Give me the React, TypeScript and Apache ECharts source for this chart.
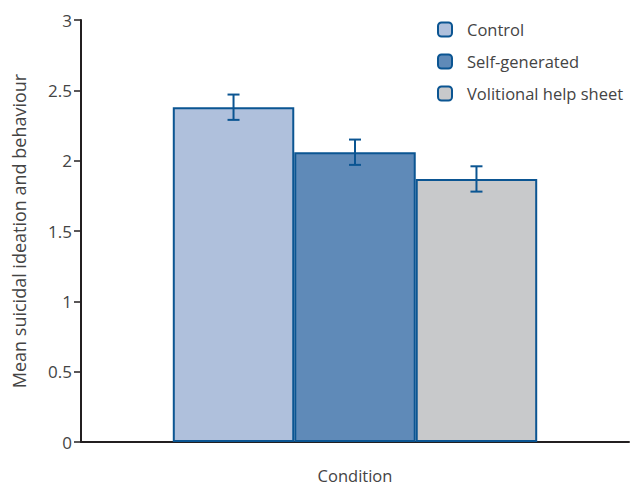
import React, { useEffect, useRef } from "react";
import * as echarts from "echarts";

const categories = ["Condition"];
const seriesNames = ["Control", "Self-generated", "Volitional help sheet"];
const means = [2.38, 2.06, 1.87];
const errors = [0.09, 0.09, 0.09];
const fills = ["#afc0dc", "#5f8ab8", "#c8c9cb"];
const yTicks = { min: 0, max: 3, interval: 0.5 };

const BORDER = "#0b5592";
const TEXT = "#444444";
const CAT_GAP = 0.335;

export default function App() {
  const ref = useRef<HTMLDivElement>(null);
  useEffect(() => {
    if (!ref.current) return;
    const chart = echarts.init(ref.current, null, { renderer: "svg" });
    const barSeries = seriesNames.map((name, i) => ({
      name,
      type: "bar",
      data: [means[i]],
      barGap: "0%",
      barCategoryGap: CAT_GAP * 100 + "%",
      itemStyle: { color: fills[i], borderColor: BORDER, borderWidth: 2 },
    }));
    const errData = seriesNames.map((_, i) => [0, means[i], errors[i], i]);
    chart.setOption({
      animation: false,
      textStyle: { fontFamily: "Open Sans" },
      grid: { left: 81, right: 7, top: 20, bottom: 47, containLabel: false, outerBoundsMode: "none" },
      legend: {
        orient: "vertical",
        left: 432,
        top: 16,
        itemWidth: 14,
        itemHeight: 14,
        itemGap: 15,
        data: seriesNames,
        textStyle: { color: TEXT, fontSize: 16.5, fontFamily: "Open Sans", padding: [0, 0, 0, 10] },
      },
      xAxis: {
        type: "category",
        data: categories,
        name: "Condition",
        nameLocation: "middle",
        nameGap: 25,
        nameTextStyle: { color: TEXT, fontSize: 16.5, lineHeight: 17 },
        axisLine: { lineStyle: { color: "#231f20", width: 2 } },
        axisTick: { show: false },
        axisLabel: { show: false },
      },
      yAxis: {
        type: "value",
        min: yTicks.min,
        max: yTicks.max,
        interval: yTicks.interval,
        name: "Mean suicidal ideation and behaviour",
        nameLocation: "middle",
        nameGap: 53,
        nameTextStyle: { color: TEXT, fontSize: 18 },
        axisLine: { show: true, lineStyle: { color: "#231f20", width: 2 } },
        axisTick: { show: true, length: 7, lineStyle: { color: "#231f20", width: 1.5 } },
        axisLabel: { color: TEXT, fontSize: 17, margin: 9 },
        splitLine: { show: false },
      },
      series: [
        ...barSeries,
        {
          type: "custom",
          name: "err",
          data: errData,
          z: 10,
          renderItem: (params: any, api: any) => {
            const mean = api.value(1);
            const err = api.value(2);
            const idx = api.value(3);
            const center = api.coord([0, mean])[0];
            const band = api.size([1, 0])[0];
            const bw = (band * (1 - CAT_GAP)) / 3;
            const x = center + (idx - 1) * bw;
            const top = api.coord([0, mean + err])[1];
            const bot = api.coord([0, mean - err])[1];
            const style = { stroke: BORDER, lineWidth: 2 };
            const cap = 6;
            return {
              type: "group",
              children: [
                { type: "line", shape: { x1: x, y1: top, x2: x, y2: bot }, style },
                { type: "line", shape: { x1: x - cap, y1: top, x2: x + cap, y2: top }, style },
                { type: "line", shape: { x1: x - cap, y1: bot, x2: x + cap, y2: bot }, style },
              ],
            };
          },
        },
      ],
    });
    return () => chart.dispose();
  }, []);
  return (
    <div
      ref={ref}
      style={{ position: "fixed", left: 0, top: 0, width: 636, height: 489, background: "#fff" }}
    />
  );
}
